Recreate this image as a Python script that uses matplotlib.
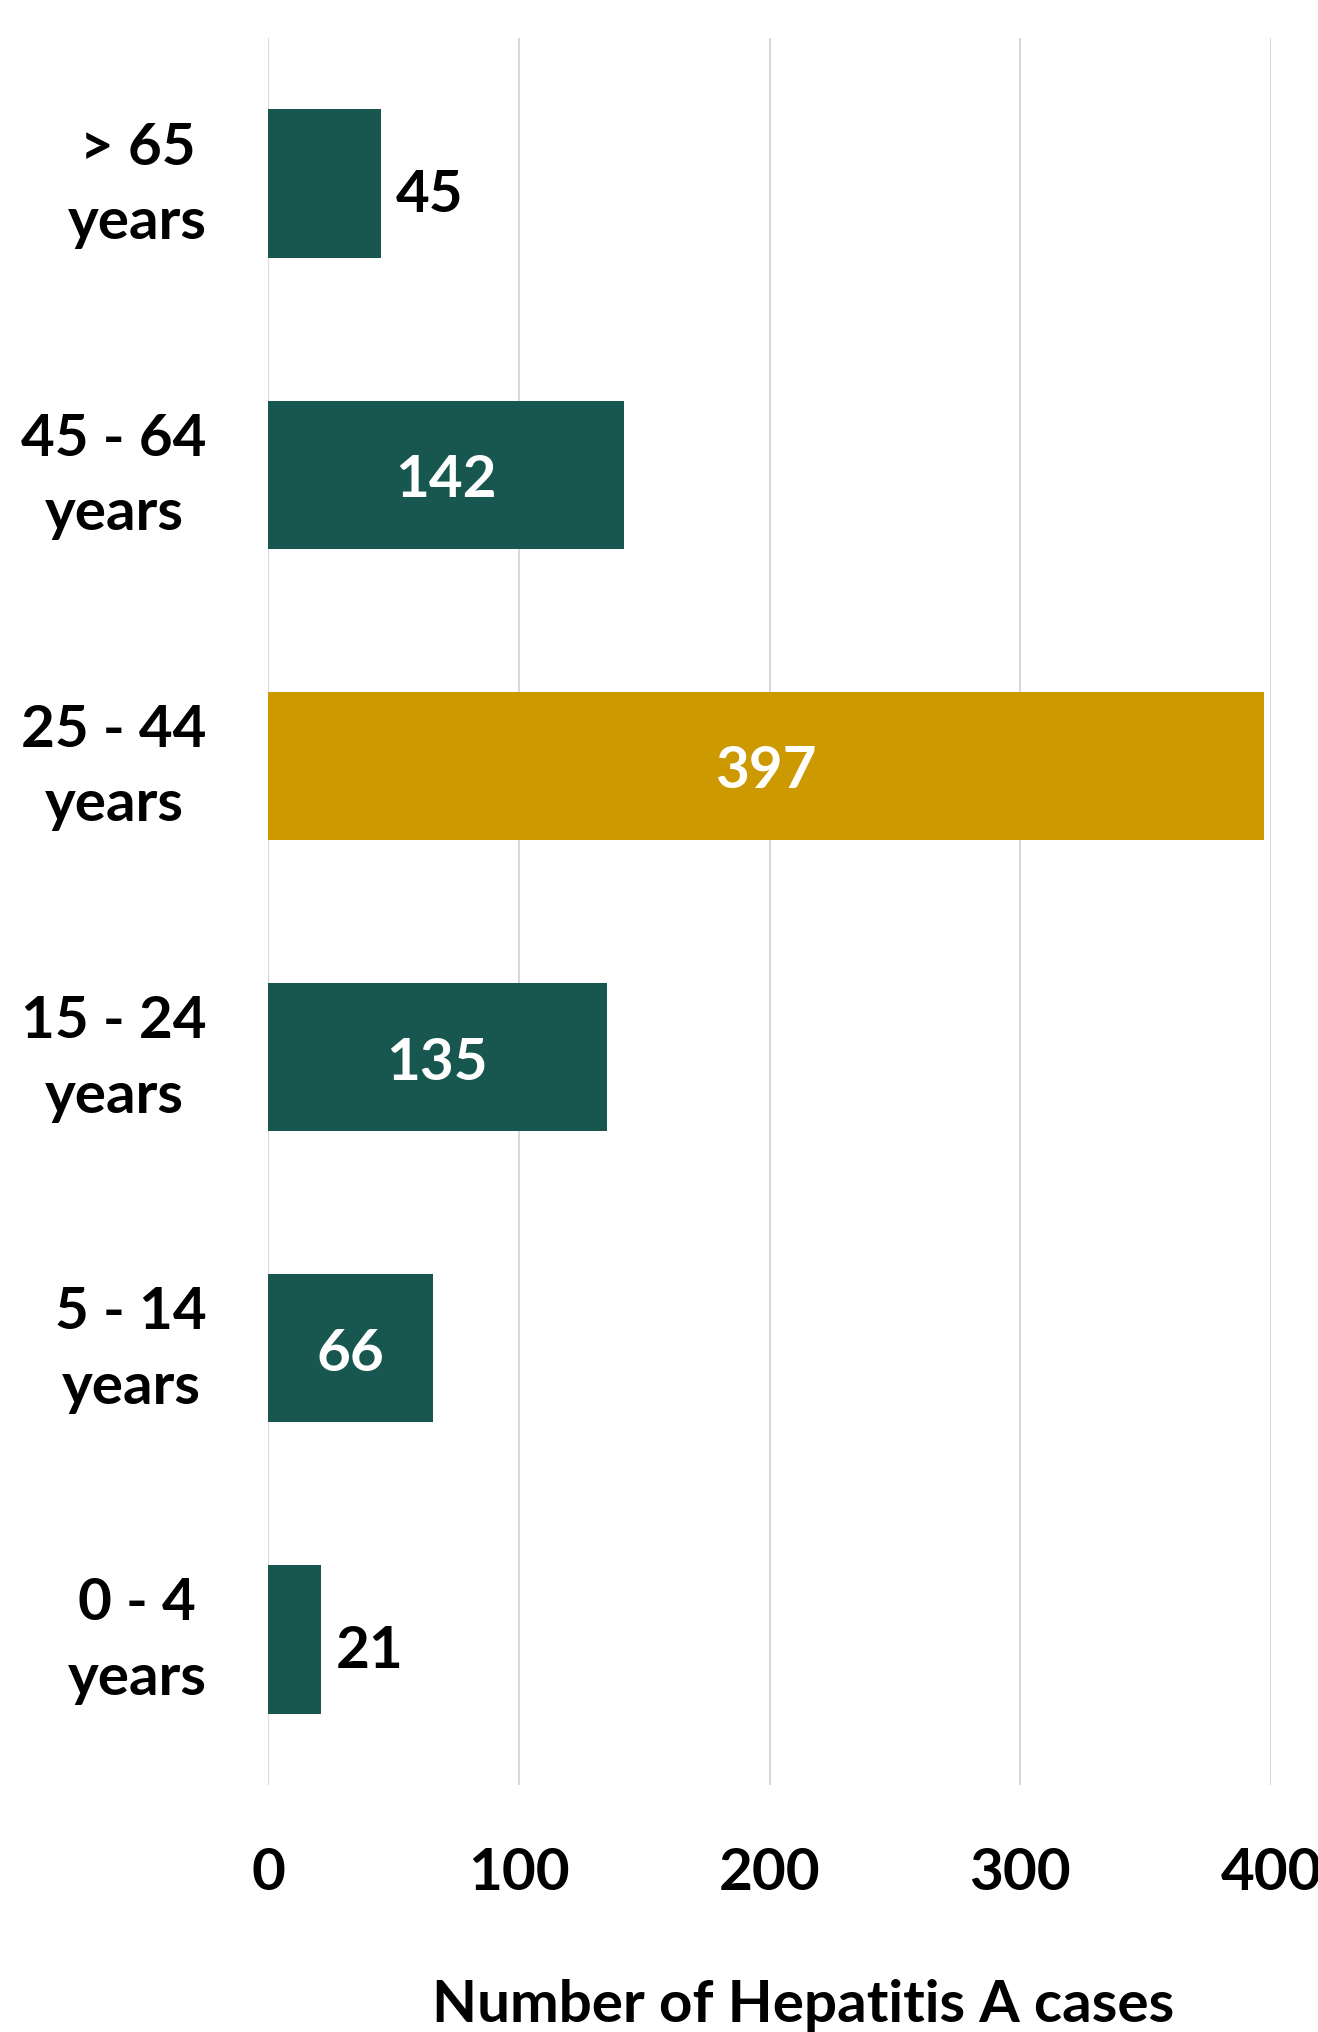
import matplotlib
matplotlib.use('Agg')
import matplotlib.pyplot as plt
from matplotlib.transforms import ScaledTranslation

# age groups, bottom to top as drawn
age_groups = ['0 - 4\nyears', '5 - 14\nyears', '15 - 24\nyears', '25 - 44\nyears', '45 - 64\nyears', '> 65\nyears']
cases = [21, 66, 135, 397, 142, 45]
highlight = '25 - 44\nyears'

teal = '#175750'
gold = '#CC9900'

plt.rcParams['font.family'] = ['Lato', 'DejaVu Sans']
plt.rcParams['font.weight'] = 'bold'

fig = plt.figure(figsize=(13.18, 20.33), dpi=100)
ax = fig.add_axes([0.2033, 0.1215, 0.7611, 0.8593])

colors = [gold if g == highlight else teal for g in age_groups]
bars = ax.barh(range(len(age_groups)), cases, height=0.51, color=colors, zorder=2)

ax.set_xlim(0, 400)
ax.set_ylim(-0.5, len(age_groups) - 0.5)
ax.set_xticks([0, 100, 200, 300, 400])
ax.set_yticks(range(len(age_groups)))
ax.set_yticklabels(age_groups, multialignment='center', linespacing=1.5)
ax.tick_params(axis='both', length=0, labelsize=42)
ax.tick_params(axis='x', pad=44)
ax.tick_params(axis='y', pad=44)
for lbl in ax.get_xticklabels() + ax.get_yticklabels():
    lbl.set_fontweight('bold')
# nudge the category labels up a bit
up = ScaledTranslation(0, 0.15, fig.dpi_scale_trans)
for lbl in ax.get_yticklabels():
    lbl.set_transform(lbl.get_transform() + up)

ax.grid(axis='x', color='#d9d9d9', linewidth=1.5, zorder=0)
for s in ax.spines.values():
    s.set_visible(False)

for b, v in zip(bars, cases):
    y = b.get_y() + b.get_height() / 2
    if v < 50:
        t = ax.text(v + 6, y, str(v), va='center', ha='left', fontsize=42,
                    fontweight='bold', color='black')
        t.set_transform(ax.transData + ScaledTranslation(0, -0.11, fig.dpi_scale_trans))
    else:
        t = ax.text(v / 2, y, str(v), va='center', ha='center', fontsize=42,
                    fontweight='bold', color='white')
        t.set_transform(ax.transData + ScaledTranslation(0, -0.05, fig.dpi_scale_trans))

fig.text(0.609, 0.0054, 'Number of Hepatitis A cases', ha='center', va='baseline',
         fontsize=42, fontweight='bold')

fig.savefig('out.png', dpi=100)
